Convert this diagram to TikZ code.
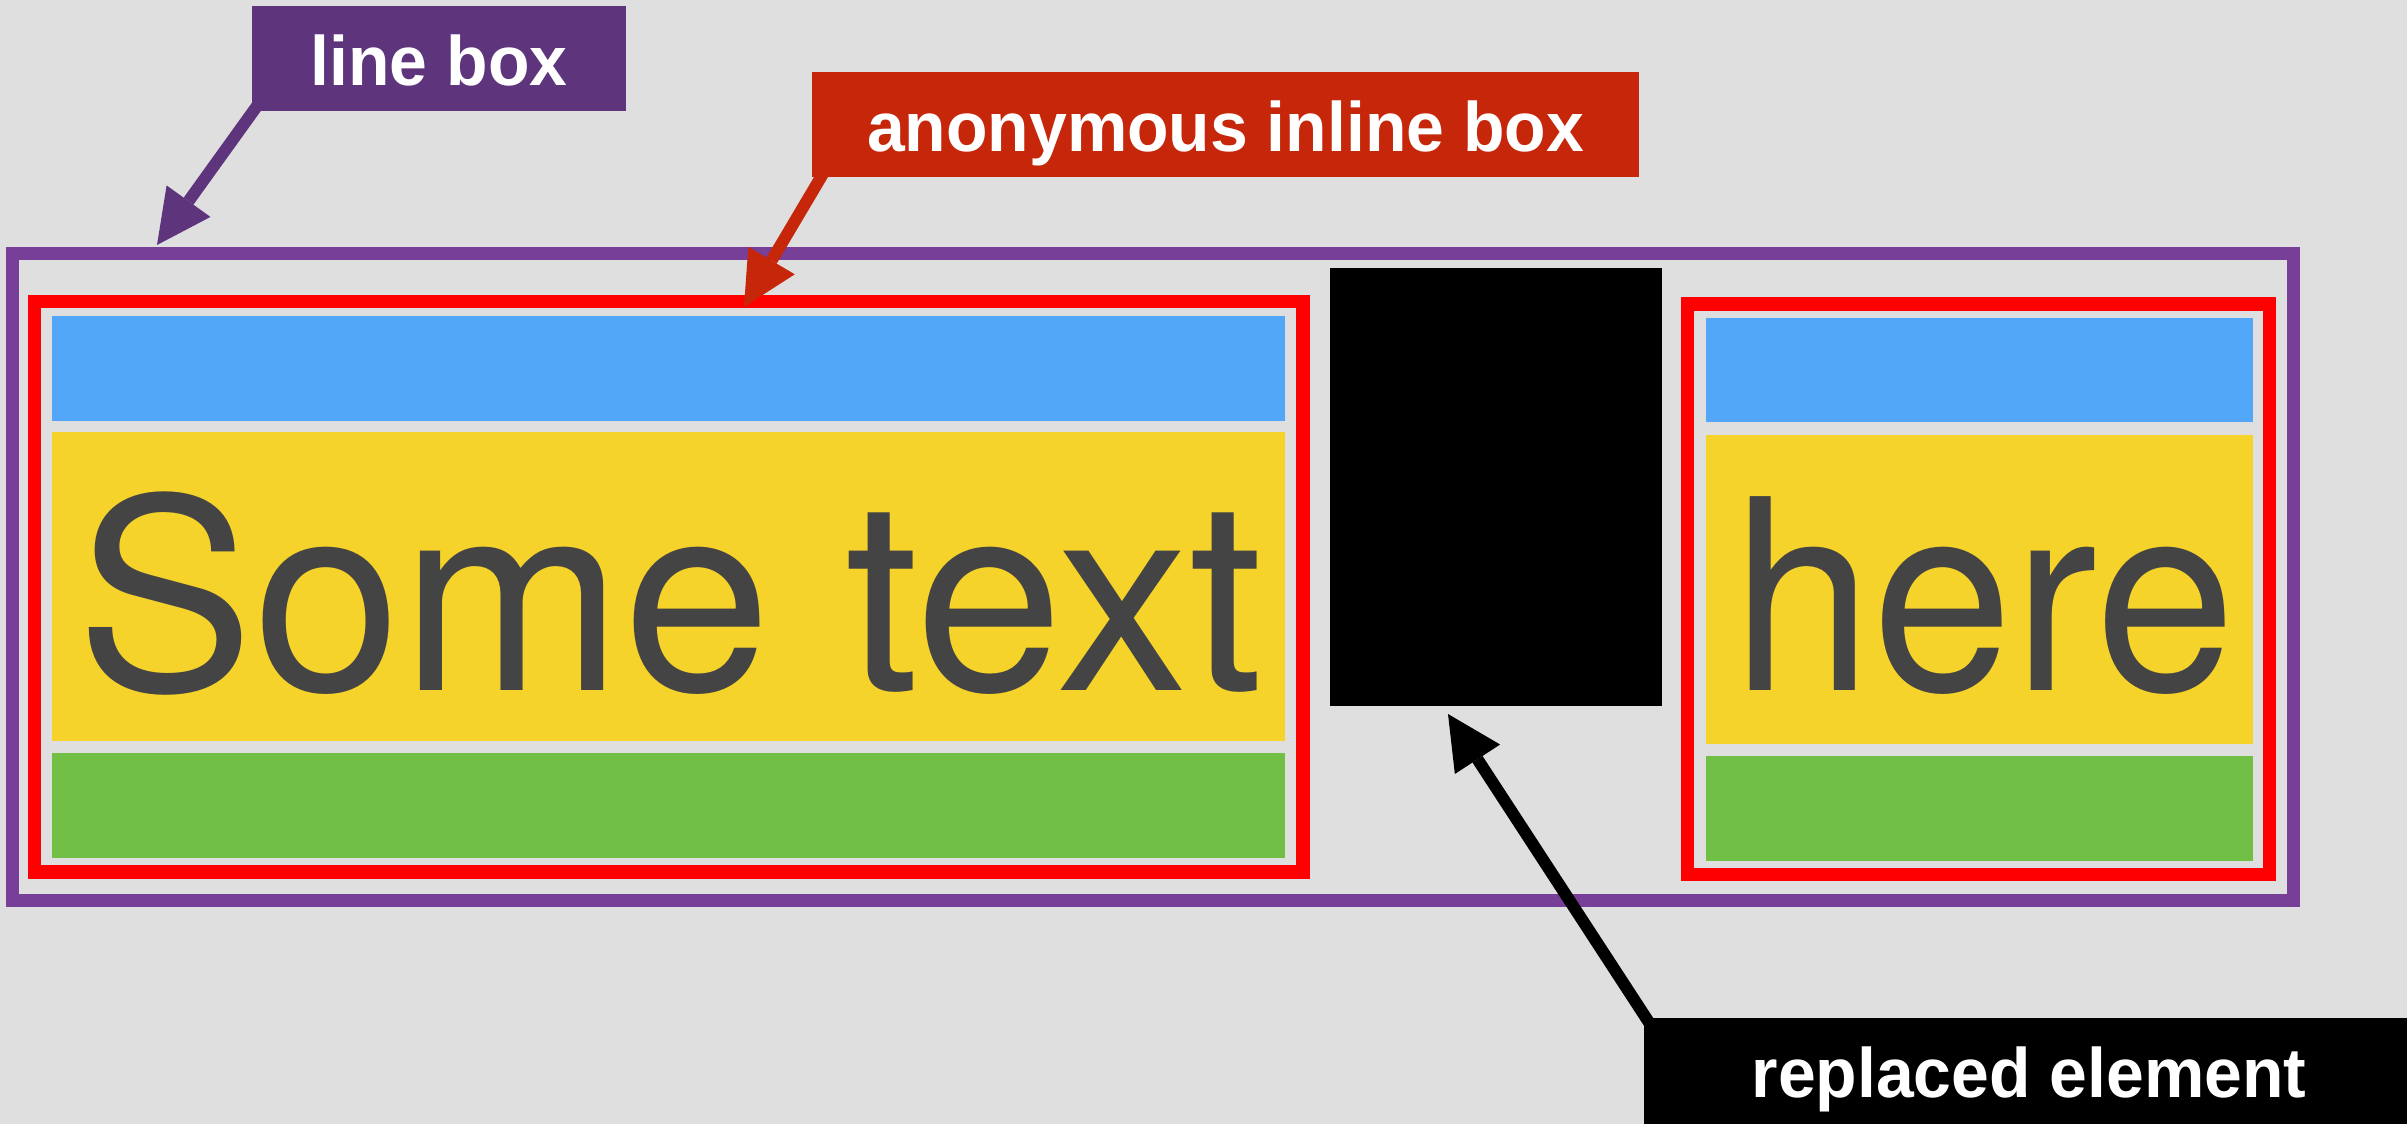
\documentclass[tikz,border=0pt]{standalone}
\usepackage{fontspec}
\setmainfont{Liberation Sans}
\newfontfamily\herosfont{TeX Gyre Heros}
\usetikzlibrary{arrows.meta}

\definecolor{bgc}{HTML}{DFDFDF}
\definecolor{linepurple}{HTML}{783F99}
\definecolor{lblpurple}{HTML}{5E347C}
\definecolor{lblred}{HTML}{C6260A}
\definecolor{inlred}{HTML}{FF0000}
\definecolor{topblue}{HTML}{53A7F9}
\definecolor{midyellow}{HTML}{F5D32B}
\definecolor{botgreen}{HTML}{71BF44}
\definecolor{textgray}{HTML}{444444}

\pgfdeclarelayer{front}
\pgfsetlayers{main,front}

\newcommand{\lbltext}[1]{\scalebox{0.97}[1]{#1}}

\begin{document}
\begin{tikzpicture}[x=1pt,y=-1pt,
  rect/.style={inner sep=0pt, outer sep=0pt, anchor=north west},
  frame/.style={rect, line width=13pt},
  band/.style={rect, draw=none},
  big/.style={inner sep=0pt, outer sep=0pt, anchor=base, text=textgray,
    font=\herosfont\fontsize{266pt}{300pt}\selectfont},
  lbl/.style={rect, text=white, text height=60pt, text depth=7pt,
    font=\fontsize{70pt}{80pt}\selectfont\bfseries},
  arr/.style={line width=12pt,
    -{Triangle[length=54pt,width=54pt,line width=0pt]}}
]
% canvas
\useasboundingbox (0,0) rectangle (2407,1124);
\fill[bgc] (0,0) rectangle (2407,1124);

% callout labels (front layer)
\begin{pgfonlayer}{front}
  \node[lbl, fill=lblpurple, minimum width=374pt, minimum height=105pt] (lb) at (252,6) {\lbltext{line box}};
  \node[lbl, fill=lblred, minimum width=827pt, minimum height=105pt] (aib) at (812,72) {\lbltext{anonymous inline box}};
  \node[lbl, fill=black, minimum width=770pt, minimum height=106pt] (re) at (1644,1018) {\lbltext{replaced element}};
\end{pgfonlayer}

% line box
\node[frame, draw=linepurple, minimum width=2280.5pt, minimum height=647pt] (linebox) at (12.5,253.5) {};

% first inline box
\node[frame, draw=inlred, line width=13.5pt, minimum width=1268.5pt, minimum height=570.5pt] (inlA) at (34.5,301.5) {};
\node[band, fill=topblue,   minimum width=1233pt, minimum height=105pt] (blueA)   at (52,316) {};
\node[band, fill=midyellow, minimum width=1233pt, minimum height=309pt] (yellowA) at (52,432) {};
\node[band, fill=botgreen,  minimum width=1233pt, minimum height=105pt] (greenA)  at (52,753) {};
\node[big] (textA) at (670,690) {Some text};

% replaced element
\node[band, fill=black, minimum width=332pt, minimum height=438pt] (repl) at (1330,268) {};

% second inline box
\node[frame, draw=inlred, line width=13.5pt, minimum width=582pt, minimum height=570.5pt] (inlB) at (1687.5,304) {};
\node[band, fill=topblue,   minimum width=547pt, minimum height=104pt] (blueB)   at (1706,318) {};
\node[band, fill=midyellow, minimum width=547pt, minimum height=309pt] (yellowB) at (1706,435) {};
\node[band, fill=botgreen,  minimum width=547pt, minimum height=105pt] (greenB)  at (1706,756) {};
\node[big] (textB) at (1984,690) {\scalebox{0.95}[1]{here}};

% arrow targets
\coordinate (lbtip)  at (157,245);
\coordinate (aibtip) at (744,307);
\coordinate (retip)  at (1448,714);

% callout arrows
\draw[arr, color=lblpurple] ([shift={(5,-5)}]lb.south west) -- (lbtip);
\draw[arr, color=lblred] ([shift={(12,-5)}]aib.south west) -- (aibtip);
\draw[arr, color=black] ([shift={(6,6)}]re.north west) -- (retip);
\end{tikzpicture}
\end{document}
